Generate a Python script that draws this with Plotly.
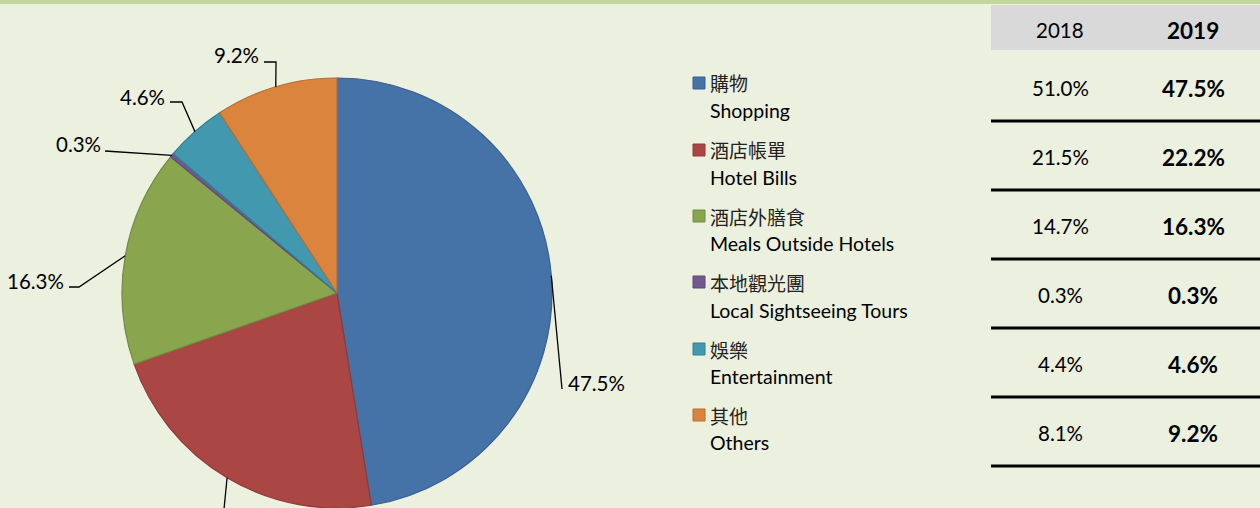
import math
import plotly.graph_objects as go

# ---------------- data ----------------
labels_zh = ["購物", "酒店帳單", "酒店外膳食", "本地觀光團", "娛樂", "其他"]
labels_en = ["Shopping", "Hotel Bills", "Meals Outside Hotels",
             "Local Sightseeing Tours", "Entertainment", "Others"]
share_2018 = [51.0, 21.5, 14.7, 0.3, 4.4, 8.1]
share_2019 = [47.5, 22.2, 16.3, 0.3, 4.6, 9.2]
year_labels = ["2018", "2019"]

# ---------------- style ----------------
W, H = 1260, 508
colors = ["#4572A7", "#AA4643", "#89A54E", "#71588F", "#4198AF", "#DB843D"]
borders = ["#3B6090", "#8E3A37", "#728A41", "#5E4977", "#367F92", "#B86E33"]
bg = "#EBF0DF"
strip = "#C3D69B"
LATIN = "Lato, 'Open Sans', sans-serif"
CJK = "'Noto Sans CJK TC', 'Noto Sans CJK SC', sans-serif"

# pie geometry in pixels
cx, cy, r = 337, 293, 215


def px(x):
    return x / W


def py(y):
    return 1 - y / H


fig = go.Figure()
fig.add_trace(go.Pie(
    labels=labels_en, values=share_2019, sort=False, direction="clockwise",
    rotation=0, textinfo="none", hoverinfo="label+percent",
    marker=dict(colors=colors, line=dict(color=borders, width=1.2)),
    domain=dict(x=[px(cx - r), px(cx + r)], y=[py(cy + r), py(cy - r)]),
    showlegend=False,
))

shapes = []
annotations = []


def text_ann(x, y, text, family, size, xanchor="center", color="#000000"):
    annotations.append(dict(xref="paper", yref="paper", x=px(x), y=py(y),
                            text=text, showarrow=False, xanchor=xanchor,
                            yanchor="middle",
                            font=dict(family=family, size=size, color=color)))


# top strip
shapes.append(dict(type="rect", xref="paper", yref="paper", x0=0, x1=1,
                   y0=py(4), y1=1, fillcolor=strip, line=dict(width=0), layer="below"))

# ---- data labels with leader lines (edge points computed from data) ----
# per-slice layout: (elbow point, line end point, label x, label y, xanchor)
leader_layout = [
    (None, (562, 389), 566, 383, "left"),
    (None, (221, 540), 221, 560, "center"),   # label falls below the visible area
    ((79, 287), (69, 287), 66, 281, "right"),
    (None, (105, 151), 103, 144, "right"),
    ((182, 102), (170, 102), 167, 97, "right"),
    ((276, 62), (264, 62), 261, 55, "right"),
]
total = sum(share_2019)
cum = 0.0
for v, (elbow, end, lx, ly, xa) in zip(share_2019, leader_layout):
    mid = (cum + v / 2) / total * 2 * math.pi
    cum += v
    ex = cx + r * math.sin(mid)
    ey = cy - r * math.cos(mid)
    pts = [(ex, ey)] + ([elbow] if elbow else []) + [end]
    path = "M " + " L ".join(f"{px(a):.5f},{py(b):.5f}" for a, b in pts)
    shapes.append(dict(type="path", xref="paper", yref="paper", path=path,
                       line=dict(color="#000000", width=1.3)))
    if ly < H:
        text_ann(lx, ly, f"{v:.1f}%", LATIN, 20.5, xanchor=xa)

# ---- legend ----
zh_y = [83, 150, 216, 282, 349, 415]
en_y = [110, 177, 243, 310, 376, 442]
for i in range(len(labels_zh)):
    shapes.append(dict(type="rect", xref="paper", yref="paper",
                       x0=px(693), x1=px(705), y0=py(zh_y[i] + 6), y1=py(zh_y[i] - 6),
                       fillcolor=colors[i], line=dict(color=borders[i], width=1)))
    text_ann(708, zh_y[i], labels_zh[i], CJK, 19, xanchor="left", color="#222222")
    text_ann(708, en_y[i], labels_en[i], LATIN, 19.5, xanchor="left")

# ---- table ----
tx0 = 991
col_x = [1060, 1193]
shapes.append(dict(type="rect", xref="paper", yref="paper", x0=px(tx0), x1=1,
                   y0=py(50), y1=py(5), fillcolor="#D9D9D9", line=dict(width=0)))
text_ann(col_x[0], 30, year_labels[0], LATIN, 20.5)
text_ann(col_x[1], 30, f"<b>{year_labels[1]}</b>", LATIN, 22.5)
row_y = [88, 157, 226, 295, 364, 433]
line_y = [121, 190, 259, 328, 397, 466]
for i in range(len(share_2018)):
    text_ann(col_x[0], row_y[i], f"{share_2018[i]:.1f}%", LATIN, 20.5)
    text_ann(col_x[1], row_y[i], f"<b>{share_2019[i]:.1f}%</b>", LATIN, 22.5)
    shapes.append(dict(type="line", xref="paper", yref="paper", x0=px(tx0), x1=1,
                       y0=py(line_y[i]), y1=py(line_y[i]),
                       line=dict(color="#000000", width=3)))

fig.update_layout(
    width=W, height=H, margin=dict(l=0, r=0, t=0, b=0),
    paper_bgcolor=bg, plot_bgcolor=bg,
    shapes=shapes, annotations=annotations,
)
fig.write_html(
    "out.html",
    config={"displayModeBar": False},
    post_script="document.body.style.margin='0';document.body.style.overflow='hidden';",
)
